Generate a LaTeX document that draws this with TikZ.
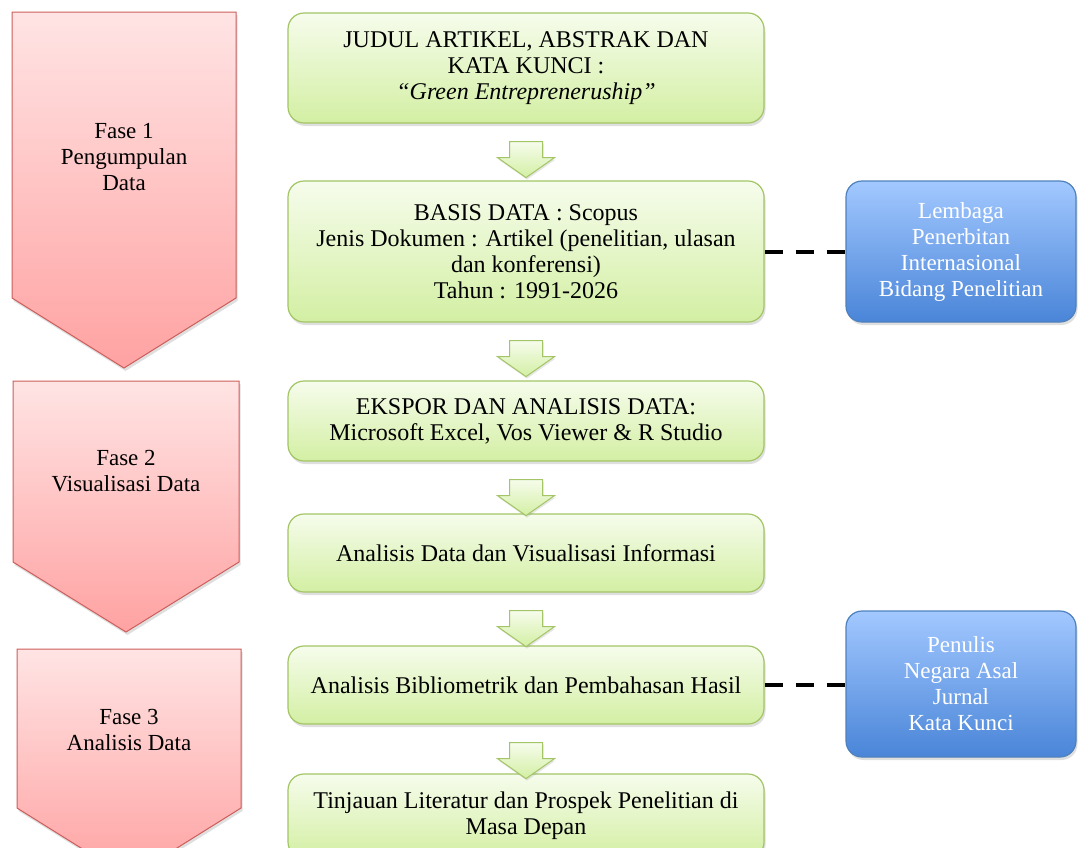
\documentclass[tikz,border=0pt]{standalone}
\usepackage{fontspec}
\setmainfont{Liberation Serif}
\usetikzlibrary{shadows,calc}
\definecolor{gtop}{HTML}{F6FCEC}
\definecolor{gbot}{HTML}{D3EFA3}
\definecolor{gborder}{HTML}{A3C565}
\definecolor{ptop}{HTML}{FFE4E4}
\definecolor{pbot}{HTML}{FFA2A2}
\definecolor{pborder}{HTML}{CC5E5B}
\definecolor{btop}{HTML}{A2C8FF}
\definecolor{bbot}{HTML}{4A85D8}
\definecolor{bborder}{HTML}{4F81BD}
\newcommand\blockarrow[1]{%
  \path[barrow] ($(#1.south)+(-16.5,18)$) -- ++(33,0) -- ++(0,16) -- ++(12,0)
     -- ++(-28.5,20) -- ++(-28.5,-20) -- ++(12,0) -- cycle;}
\begin{document}
\begin{tikzpicture}[x=1pt,y=-1pt,
  txt/.style={font=\fontsize{23}{26}\selectfont, align=center},
  gtxt/.style={font=\fontsize{24}{26}\selectfont, align=center},
  shd/.style={drop shadow={opacity=0.25, shadow xshift=1.5pt, shadow yshift=-3pt}},
  gbox/.style={gtxt, shd, draw=gborder, line width=1.2pt, rounded corners=16pt,
     top color=gtop, bottom color=gbot, minimum width=476pt, inner sep=0pt},
  bbox/.style={txt, shd, draw=bborder, line width=1.2pt, rounded corners=16pt,
     top color=btop, bottom color=bbot, minimum width=230pt, inner sep=0pt, text=white},
  phase/.style={shd, draw=pborder, line width=1pt, top color=ptop, bottom color=pbot},
  barrow/.style={draw=gborder, line width=1pt, top color=gtop, bottom color=gbot,
     drop shadow={opacity=0.2, shadow xshift=1pt, shadow yshift=-2pt}},
  dashline/.style={draw=black, line width=4pt, dash pattern=on 18pt off 13pt}]
\useasboundingbox (0,0) rectangle (1078,847);
\clip (0,0) rectangle (1078,847);
% phases
\path[phase] (12,12) -- (236,12) -- (236,298) -- (124,368) -- (12,298) -- cycle;
\node[txt] (f1) at (124,157) {Fase 1\\Pengumpulan\\Data};
\path[phase] (13,381) -- (239,381) -- (239,562) -- (126,632) -- (13,562) -- cycle;
\node[txt] (f2) at (126,471) {Fase 2\\Visualisasi Data};
\path[phase] (17,649) -- (241,649) -- (241,808) -- (129,878) -- (17,808) -- cycle;
\node[txt] (f3) at (129,730) {Fase 3\\Analisis Data};
% green boxes
\node[gbox, minimum height=110pt] (b1) at (526,68) {JUDUL ARTIKEL, ABSTRAK DAN\\KATA KUNCI :\\\textit{``Green Entrepreneruship''}};
\node[gbox, minimum height=141pt] (b2) at (526,251.5) {BASIS DATA : Scopus\\Jenis Dokumen : Artikel (penelitian, ulasan\\dan konferensi)\\Tahun : 1991-2026};
\node[gbox, minimum height=80pt] (b3) at (526,421) {EKSPOR DAN ANALISIS DATA:\\Microsoft Excel, Vos Viewer \& R Studio};
\node[gbox, minimum height=78pt] (b4) at (526,553) {Analisis Data dan Visualisasi Informasi};
\node[gbox, minimum height=78pt] (b5) at (526,685) {Analisis Bibliometrik dan Pembahasan Hasil};
\node[gbox, minimum height=84pt] (b6) at (526,816) {Tinjauan Literatur dan Prospek Penelitian di\\Masa Depan};
% blue boxes
\node[bbox, minimum height=141pt] (l1) at (961,251.5) {Lembaga\\Penerbitan\\Internasional\\Bidang Penelitian};
\node[bbox, minimum height=146pt] (l2) at (961,684) {Penulis\\Negara Asal\\Jurnal\\Kata Kunci};
% arrows
\blockarrow{b1}
\blockarrow{b2}
\blockarrow{b3}
\blockarrow{b4}
\blockarrow{b5}
% dashed connectors
\draw[dashline] (b2.east) -- (b2.east -| l1.west);
\draw[dashline] (b5.east) -- (b5.east -| l2.west);
\end{tikzpicture}
\end{document}
